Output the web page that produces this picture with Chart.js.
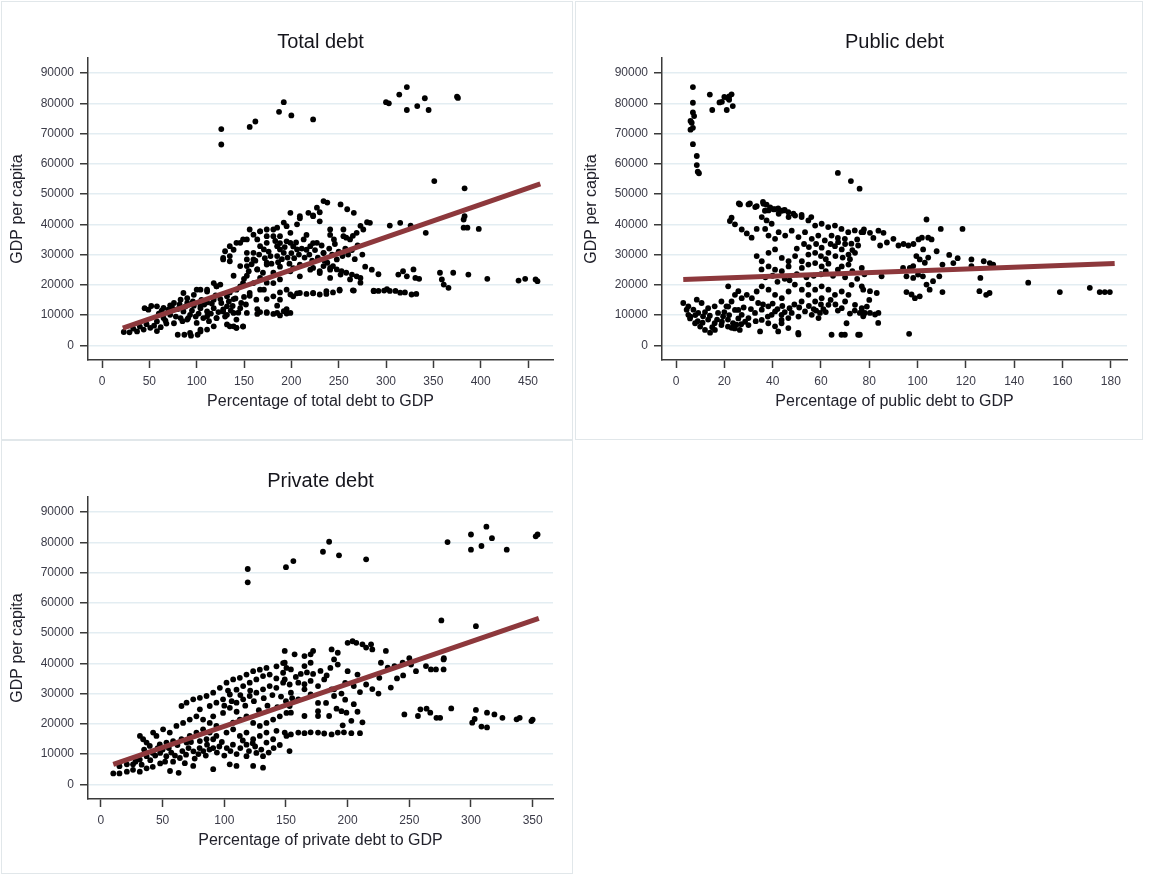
<!DOCTYPE html>
<html>
<head>
<meta charset="utf-8">
<script src="https://cdn.jsdelivr.net/npm/chart.js@4.4.0/dist/chart.umd.min.js"></script>
<style>
body { margin: 0; background: #fff; width: 1149px; height: 875px; position: relative; overflow: hidden; }
.frame { position: absolute; border: 1.5px solid #e1e7ea; box-sizing: border-box; background: #fff; }
canvas { position: absolute; }
</style>
</head>
<body>
<div class="frame" style="left:1px;top:1px;width:572px;height:439px"></div>
<div class="frame" style="left:575px;top:1px;width:568px;height:439px"></div>
<div class="frame" style="left:1px;top:440px;width:572px;height:434px"></div>
<canvas id="totalChart" width="567" height="436" style="left:3px;top:3px"></canvas>
<canvas id="publicChart" width="567" height="436" style="left:577px;top:3px"></canvas>
<canvas id="privateChart" width="567" height="436" style="left:3px;top:442px"></canvas>
<script>
'use strict';
// data: [debt % of GDP, GDP per capita]
let totalDebtPoints = [
  [126,71500],[126,66400],[156,72200],[162,74000],[187,77200],[192,80400],[200,76000],[223,74700],
  [300,80400],[303,80000],[314,82900],[322,85400],[322,77800],[333,79100],[341,81700],[345,77800],[375,82200],[376,81800],
  [351,54300],[383,51900],[383,42700],
  [382,41600],[382,38900],[386,38900],[398,38500],[342,37200],[304,39600],[315,40500],[326,39600],
  [313,23400],[318,24500],[322,22800],[329,25100],[331,22300],[335,22000],[357,24000],[359,21800],[361,20100],
  [366,19000],[371,24000],[387,23400],[407,22000],[440,21400],[447,22000],[460,21200],[458,21800],
  [287,18100],[292,18000],[298,18100],[301,18600],[304,18000],[310,18000],[315,17400],[320,17500],[327,16800],[332,17000],[266,18100],
  [199,16800],[206,17200],[216,17000],[223,17200],[230,16800],[237,17000],[244,17500],[251,18100],
  [192,11300],[199,10700],
  [234,26200],[241,25600],[244,26200],[248,25100],[253,24500],[258,24000],[264,23400],[269,22800],[273,22300],[273,20700],
  [241,22300],[230,24500],[220,25000],[223,25600],[202,25500],[209,26700],
  [199,43800],[209,42700],[223,43000],[230,44000],[241,38300],[255,38300],[258,35600],[265,36200],[273,39500],[280,40700],
  [188,33800],[202,32700],[216,31600],[223,33800],[234,30500],
  [234,47700],[238,47200],[252,46600],[259,45000],[266,43800],[227,45500],[218,43800],[209,42000],[223,42700],[230,41000],
  [206,40000],[195,39400],[199,37200],[181,38300],[188,36100],[174,36100],[167,37700],[156,38300],[164,35000],[149,35000],
  [142,33900],[135,32800],[130,31100],[128,28900],[135,27800],
  [153,30600],[160,28400],[171,31700],[178,29500],[185,32800],[192,30600],[199,33900],[206,31700],[213,35000],[220,32800],
  [227,33900],[241,36500],[245,35000],[255,36100],[262,35000],[269,37200],[276,38300],[283,40500],
  [153,26200],[164,25100],[174,26700],[181,24000],[188,26000],[167,22300],[174,20700],[188,21800],[199,24500],[209,22800],
  [230,23900],[241,25000],[252,23400],[262,21800],[234,30600],[248,28400],[238,27300],
  [86,17300],[100,18400],[111,18400],[121,19500],[90,14000],[104,13000],[118,15100],[132,16200],[142,18400],[149,20600],
  [156,17300],[171,18400],[128,11900],[138,13000],[152,13500],[163,15100],[181,16200],[188,15100],[195,18400],[202,16200],
  [209,17300],[223,17300],[237,17900],[251,18400],[265,18200],[287,17900],
  [90,8500],[100,7400],[111,9600],[121,9000],[132,10100],[142,8500],[153,10700],[164,10400],[174,10700],[185,10700],
  [195,10500],[135,6300],[142,5800],[149,6200],[104,5200],[93,4100],[118,6300],
  [23,4400],[29,4300],[37,4600],[44,5200],[51,5800],[58,4700],[49,11800],[58,12900],[65,12400],[72,13200],[76,14000],
  [83,15100],[90,15600],[97,16700],[104,18400],[111,17800],[121,19500],[118,20600],[125,20100],
  [58,7900],[65,9000],[72,10100],[76,7300],[83,9000],[86,11200],[93,10100],[104,12300],[107,9000],[111,11200],[118,12300],
  [121,9000],[128,11200],[132,12900],[139,10700],[146,12300],
  [80,3500],[87,3500],[94,3200],[101,3500],[104,4600],[111,5200],[132,6900],[139,6300],[142,5800],[149,6300],
  [128,28400],[135,29500],[139,31600],[146,33900],[153,35000],[160,36600],[167,37700],[174,38300],[185,38900],[192,40600],
  [146,26200],[153,28400],[160,30600],[167,32800],[174,33900],[181,36100],[153,23000],[164,25100],[174,27300],[185,29500],
  [188,31700],[195,34400],
  [139,23000],[135,17500],[146,19500],[160,20600],[167,18400],[181,20600],[188,17500],[174,15300],[185,13100],[195,12000],
  [164,12000],[156,16400],[139,15300],[125,15300],[111,14200],[97,13100],
  [195,11000],[188,9900],[181,10400],[174,11000],[167,11000],
  [33,5500],[40,6200],[47,7000],[55,6500],[62,6000],[68,7200],[45,12300],[52,13000],
  [60,10500],[63,11500],[67,8200],[70,11800],[74,12500],[78,9500],[80,12000],[82,13500],[85,8000],[88,12800],
  [91,9000],[95,11500],[96,14500],[99,9500],[102,10500],[105,15000],[108,13500],[113,8000],[115,10500],[116,13800],
  [120,16500],[123,11000],[126,14000],[130,9500],[134,14500],[136,11500],[141,15500],[144,10800],[147,14000],[150,16000],
  [150,22000],[155,24500],[158,26800],[162,28000],[166,30000],[170,24000],[172,28800],[176,31000],[179,27000],[183,34500],
  [186,27500],[190,28500],[193,32500],[196,29000],[198,27000],[200,30500],[203,28800],[205,34000],[208,30000],[211,32000],
  [214,29000],[216,36500],[219,30000],[222,28000],[225,31500],[228,29000],[232,33000],[235,28000],[240,32000],[243,30000],
  [246,33500],[250,31000],[254,29500],[257,32000],[260,30000],[264,31500],[267,28500],[270,33000],[275,30000],
  [278,26000],[285,25000],[292,23500]
];
let publicDebtPoints = [
  [7,85400],[7,80200],[7,77000],[7.5,75800],[6,74200],[6.5,73600],[7,71900],[6,71300],[7,66500],[8.6,62600],[8.6,59600],[9.5,56900],[9,57400],
  [14,82900],[15,77800],[18,80300],[19,80500],[20,82100],[21.4,81800],[22,82300],[23,83000],[21,77800],[23.5,79100],[22,81200],
  [67,57000],[72.4,54300],[76,51800],
  [26,46900],[30.6,46900],[33.4,46000],[36,47400],[37.5,46500],[39,45600],[40.3,45000],[42.3,45300],[43.7,44500],[45,44800],
  [46.5,44000],[48.6,43500],[52,43100],[56,42400],[23,42200],[36.8,44500],
  [26.5,46600],[30,46600],[32.8,45700],[36.2,46800],[38.3,44600],[41,45000],[42.5,43500],[44.5,44600],[46.6,42400],[49.3,42900],
  [52,42400],[54.8,41300],[57.6,39600],[60.3,40200],[63,39100],[65.8,39600],[68.5,38500],[71.3,37400],[74,38000],[76.8,37400],
  [22.3,41100],[24.4,40000],[27.2,38300],[29.3,37000],[31.3,35600],[33.4,38500],[35.5,42400],[37.5,41300],[39.6,40200],[36.9,38500],
  [38.3,36300],[41,35200],[42.5,37400],[45.2,36300],[47.9,37900],[50.7,35800],[53.4,37400],[56.2,35200],[58.9,36300],[61.6,34700],
  [64.4,36300],[67.1,34100],[69.9,35200],[72.6,33600],[75.4,33000],[77.5,37400],
  [33.4,29500],[35.5,27800],[38.3,30600],[41,31700],[43.8,28900],[46.6,27800],[49.3,29500],[52.1,27800],[54.8,30000],[57.6,30600],
  [60.3,32300],[63.1,30600],[65.8,32800],[68.6,31700],[71.4,30000],[74.1,30600],
  [35.4,25100],[38.3,26100],[41,25000],[43.8,24500],[46.6,26100],[52.1,25600],[54.8,26700],[57.6,27200],[60.3,26100],[63.1,27000],
  [68.6,26100],[71.4,26700],[76.9,25600],
  [49.2,20100],[52.1,18400],[54.8,20100],[57.6,18400],[60.3,19500],[63.1,18400],[65.8,16700],[68.6,17800],[71.4,16700],[72.7,20000],
  [76.9,19500],[54.8,16700],[57.6,14500],[60.3,15600],[63.1,13400],[68.6,12300],[74.1,13400],[76.9,12300],
  [46.6,17800],[43.8,15600],[41,16700],[38.3,18400],[35.5,19500],[33.4,17800],[31.4,15600],[29.3,16700],[27.2,15600],[25.8,17900],
  [24.4,16700],[21.6,19500],[23,14500],[21.6,12800],[24.4,11700],[27.2,10100],[25.8,8900],[28.6,7800],[30,6700],[25.8,11700],
  [32.7,10700],[35.5,11800],[38.2,12900],[39.6,10100],[41,11200],[43.7,10100],[46.5,9000],[47.9,10700],[50.7,9500],[53.4,11200],
  [56.2,10100],[59,9000],[35.5,8400],[38.2,7300],[41,6300],[43.7,7300],[34.8,4600],[42.3,4600],[46.5,5700],[50.6,4100],[43.7,8400],
  [3,14000],[4.4,11800],[5.1,10100],[5.8,8900],[7.9,7300],[10,6200],[12,5100],[14.1,4200],[16.1,5100],[5.1,12900],[7.2,11800],
  [9.2,10700],[11.2,9600],[13.3,8500],[16,7300],[18.8,6700],[21.5,6200],[24.3,5600],[26.4,5100],[8.6,15100],[10.6,14000],
  [13.3,12300],[16,12900],[17.4,10700],[19.5,9600],[21.5,8500],[23.6,7300],[18.8,14500],[20.9,12900],
  [77.8,38300],[80.3,37200],[81.7,35500],[83.8,37900],[85.9,37200],[84.5,33000],[87.3,34000],[90,35200],[92.1,33000],[94.2,33500],
  [96.2,33000],[98.3,33500],[100.4,35000],[101.8,35600],[103.7,41600],[104.4,35600],[105.8,35000],[102.3,31700],[99.5,29500],
  [100.9,28400],[103,27300],[104.4,29000],[107.9,31100],[109.6,38500],[118.6,38500],[113.1,29900],[114.8,27200],[116.6,28800],
  [110.3,26700],[109,22800],[122.3,28400],[122.3,26200],[127.4,27800],[129.9,27200],[131.3,26700],
  [126,22300],[125.6,17900],[128.4,16700],[129.8,17300],[145.8,20700],[158.9,17600],[171.3,19000],[175.4,17600],[177.5,17600],
  [179.6,17600],[110.3,17600],[95.4,17600],[97.5,16800],[98.9,15600],[100.9,16200],[105,18400],[106.4,21200],[103.7,20100],
  [98.2,22300],[100.2,23400],[102.2,22800],[95.4,22800],[94,25600],[96.8,25600],[98.2,26200],[85.1,22800],[77.5,18400],
  [80.3,17900],[83.1,17300],[76.1,10700],[78.2,10700],[80.3,10700],[82.4,10200],[83.8,10700],[83.7,7400],[76.1,3500],[96.5,3800],
  [64.4,3500],[68.5,3500],[69.9,3500],[75.4,3500],[70.6,7300],[50.7,3600],[77.5,9600],[76.9,11200],[59.6,10700],[61,12000],
  [36,13500],[38,9500],[40,13800],[42,12000],[44,13000],[45,11000],[47,12300],[49,13500],[51,12500],[52,14500],
  [55,13000],[57,12000],[58,11500],[60,13500],[62,11000],[64,15000],[66,13500],[67,11500],[70,14500],[72,10500],
  [74,11500],[79,12800],[80,15000],
  [50,32000],[53,33500],[55,32500],[58,33500],[60,29500],[62,28500],[64,33500],[66,29500],[67,35500],[69,29000],
  [70,33500],[72,28500],[73,31500],[75,35000],[60,23500],[62,24500],[65,23000],[67,25000],[70,22500],[73,24500],
  [75,22000],[78,23500],[57,23000],[54,22500],[50,23500],[47,21500],[45,22000],[42,21000],[40,23000],[37,22500],
  [6,9500],[8,10000],[9,8000],[11,7500],[12,11000],[14,9800],[15,6000],[17,8500],[19,7800],[20,11000],
  [22,10000],[23,5800],[25,6800],[27,7000],[28,12500],[30,9000],[31,12000],[33,8000],[34,14000]
];
let privateDebtPoints = [
  [119,71200],[119,66800],[150,71800],[156,73800],[180,76900],[185,80200],[193,75700],[215,74400],[281,80100],[300,82600],
  [300,77600],[308.5,78800],[312.5,85200],[317,81400],[329,77600],[352.5,82000],[354,82600],
  [276,54200],[304,52300],[278,41700],[250,41700],
  [200,46800],[204,47300],[207,46800],[212,46300],[215,45200],[219,46300],[220,44600],[231,44100],[192,43500],[187,44600],
  [172,44100],[170,43000],[157,43000],[165,42400],[149,44100],
  [10,3600],[15,3600],[21,4200],[26,4800],[31.5,4200],[37,5300],[42,5800],[48,6900],[15,6000],[21,6600],[26,6600],[31.5,8200],
  [37,9300],[42,10400],[48,10400],[53,9300],[56,4400],[63,3800],[58.5,7500],[64,8700],[69,9800],[75,10900],[80,12000],[86,13100],
  [91,12000],[96,12500],[102,12000],[107,13100],[113,12000],[118,13100],[123,13600],
  [31.6,16000],[34.2,14900],[37,13800],[42.3,17100],[45,16000],[50.4,18200],[55.8,17100],[61.2,19300],[66.6,20300],[72,21400],
  [77.4,22500],[82.8,21400],[88.2,20300],[93.6,19300],[93.6,16000],[101.8,17100],[107.2,18200],[112.6,16000],[118,17100],
  [123.4,14900],[128.8,16000],[134.2,13800],[139.6,14900],
  [39.6,12700],[47.7,13200],[53.1,13800],[58.5,14300],[65.3,14900],[72,16000],[77.4,17100],[82.8,18200],[88.2,17100],[69.4,13800],
  [80.2,14300],[85.6,14900],[91,14900],
  [65.3,25900],[69.4,27000],[74.8,28100],[80.2,28600],[85.6,29200],[91,30300],[96.4,31900],[101.8,33600],[107.2,34700],[112.6,35200],
  [118,36300],[123.4,37400],[128.8,37900],[134.2,38500],[142.3,39000],[147.7,40100],[150.4,38500],
  [80.2,24800],[88.2,25900],[93.6,27000],[99,28100],[104.5,29700],[109.9,31300],[115.3,32500],[120.6,33600],[126,34700],[131.4,35800],
  [136.8,36300],[142.2,35000],[147.7,36900],[91,22500],[99,23600],[104.5,25300],[109.9,27000],[115.3,28100],[120.6,29200],[126,30300],
  [131.4,31400],[136.8,32500],[142.2,31900],[147.7,33600],[153,33000],
  [107.1,20400],[112.6,21400],[118,22500],[123.4,20300],[128.8,19300],[134.2,20300],[139.6,21400],[145,22500],[150.4,23600],
  [134.2,17100],[142.3,17700],[150.4,16000],
  [104.4,6600],[109.9,6100],[123.4,6100],[131.4,5500],[91,5000],[74.8,6100],[126,10400],[131.4,9300],[118,9300],[152.9,11000],
  [149,17100],[154,16500],[160,17100],[165,16900],[170,17200],[176,17100],[181,16800],[187,16500],[192,17100],[197,17200],
  [203,16900],[210,16900],
  [154,23700],[165,22600],[176,24200],[176,22600],[185,22600],[191,25000],[195,24200],[199,23700],
  [246,23100],[257,22600],[259,24800],[264,25000],[267,23700],[272,22000],[275,22000],[284,25100],[301,20400],[304,24600],
  [303,21600],[308.5,19100],[313,23700],[313,18800],[319,23100],[325.5,22000],[337,21500],[339.5,22000],[349,20900],[350,21400],
  [149,40200],[154,38000],[165,39100],[170,40200],[189,41300],[192,39600],[200,37400],[208,36300],[227,40200],[232.5,38600],
  [238,39100],[244.6,40200],[251.4,39600],[255.4,37400],[263.5,39100],[267.5,38000],[271.6,38000],[277.8,38000],[277.8,41300],
  [225.7,35200],
  [149,34700],[160,33600],[165,33100],[170,34200],[176,32500],[181,34700],[187,31400],[189,29200],[189,31400],[154,30300],
  [160,28100],[165,31400],[170,29700],[176,26900],[182.5,26900],[153,25900],
  [28,7500],[33,6500],[35,11500],[40,8000],[44,9500],[46,12000],[50,11500],[52,7500],[55,12000],[57,10500],
  [60,9500],[62,13000],[66,11000],[68,7000],[71,12000],[73,14000],[76,8500],[79,10000],[83,11000],[85,9500],
  [88,11500],[94,10500],[98,14000],[100,9500],[105,11000],[110,10000],[115,14500],[120,11000],[125,12500],[130,11500],
  [136,10500],[140,12000],[145,13000],
  [100,26000],[103,31000],[106,27500],[110,24000],[113,29500],[117,26000],[121,31000],[124,27500],[128,24500],[132,28500],
  [135,26000],[139,29500],[143,25500],[146,29000],[150,27500],[155,28500],[158,35500],[162,36500],[167,37000],[172,36500],
  [178,37500],[183,36000],[186,38500],[195,30000],[198,33500],[205,32500],[210,30500],[215,33000],[220,31500],[225,30000],
  [235,32000],[240,35000],[245,36000],[198,28000],[205,26500],[208,24000],[212,20500],[203,21000],[196,19500]
];
// fitted lines, end points as seen
let totalFit = [[22,5700],[463,53400]];
let publicFit = [[3,21750],[181.6,27050]];
let privateFit = [[10,6600],[355,54900]];

let yTicks = [0,10000,20000,30000,40000,50000,60000,70000,80000,90000];
let totalXTicks = [0,50,100,150,200,250,300,350,400,450];
let publicXTicks = [0,20,40,60,80,100,120,140,160,180];
let privateXTicks = [0,50,100,150,200,250,300,350];

let titles = ['Total debt','Public debt','Private debt'];
let xTitles = ['Percentage of total debt to GDP','Percentage of public debt to GDP','Percentage of private debt to GDP'];
let yTitle = 'GDP per capita';

const FONT = '"Liberation Sans", Arial, Helvetica, sans-serif';
const AXIS_COLOR = '#3a3a3a';

function toXY(list) {
    return list.map(p => ({x: p[0], y: p[1]}));
}

function buildPanel(id, points, fit, xTicks, xMin, xMax, title, xTitle) {
    let ctx = document.getElementById(id).getContext('2d');
    return new Chart(ctx, {
        type: 'scatter',
        data: {
            datasets: [{
                data: toXY(fit),
                showLine: true,
                borderColor: '#8d383c',
                borderWidth: 5,
                pointRadius: 0,
                order: 0
            }, {
                data: toXY(points),
                backgroundColor: '#000',
                borderWidth: 0,
                pointRadius: 2.9,
                order: 1
            }]
        },
        options: {
            responsive: false,
            animation: false,
            layout: { padding: { left: 0, right: 17, top: 0, bottom: 24 } },
            plugins: {
                legend: { display: false },
                tooltip: { enabled: false },
                title: {
                    display: true,
                    text: title,
                    fullSize: false,
                    color: '#15151c',
                    font: { family: FONT, size: 20, weight: 'normal' },
                    padding: { top: 27, bottom: 4 }
                }
            },
            scales: {
                x: {
                    type: 'linear',
                    min: xMin,
                    max: xMax,
                    afterBuildTicks: s => { s.ticks = xTicks.map(v => ({value: v})); },
                    afterFit: s => { s.height = 55; },
                    grid: { drawOnChartArea: false, tickLength: 8, tickColor: AXIS_COLOR, tickWidth: 1.5 },
                    border: { color: AXIS_COLOR, width: 1.5 },
                    ticks: { padding: 6, color: '#3b3b48', font: { family: FONT, size: 12 }, maxRotation: 0, callback: v => String(v) },
                    title: { display: true, text: xTitle, color: '#22222c', font: { family: FONT, size: 16 }, padding: { top: 0, bottom: 3.5 } }
                },
                y: {
                    type: 'linear',
                    min: -4850,
                    max: 95000,
                    afterBuildTicks: s => { s.ticks = yTicks.map(v => ({value: v})); },
                    afterFit: s => { s.width = 85; },
                    grid: { color: '#e3edf2', lineWidth: 1.5, tickLength: 8, tickColor: AXIS_COLOR, tickWidth: 1.5 },
                    border: { color: AXIS_COLOR, width: 1.5 },
                    ticks: { padding: 6, color: '#3b3b48', font: { family: FONT, size: 12 }, callback: v => String(v) },
                    title: { display: true, text: yTitle, color: '#22222c', font: { family: FONT, size: 16 }, padding: { top: 5.4, bottom: 0 } }
                }
            }
        }
    });
}

buildPanel('totalChart', totalDebtPoints, totalFit, totalXTicks, -14.8, 476.4, titles[0], xTitles[0]);
buildPanel('publicChart', publicDebtPoints, publicFit, publicXTicks, -5.8, 186.7, titles[1], xTitles[1]);
buildPanel('privateChart', privateDebtPoints, privateFit, privateXTicks, -10.5, 366.5, titles[2], xTitles[2]);
</script>
</body>
</html>
